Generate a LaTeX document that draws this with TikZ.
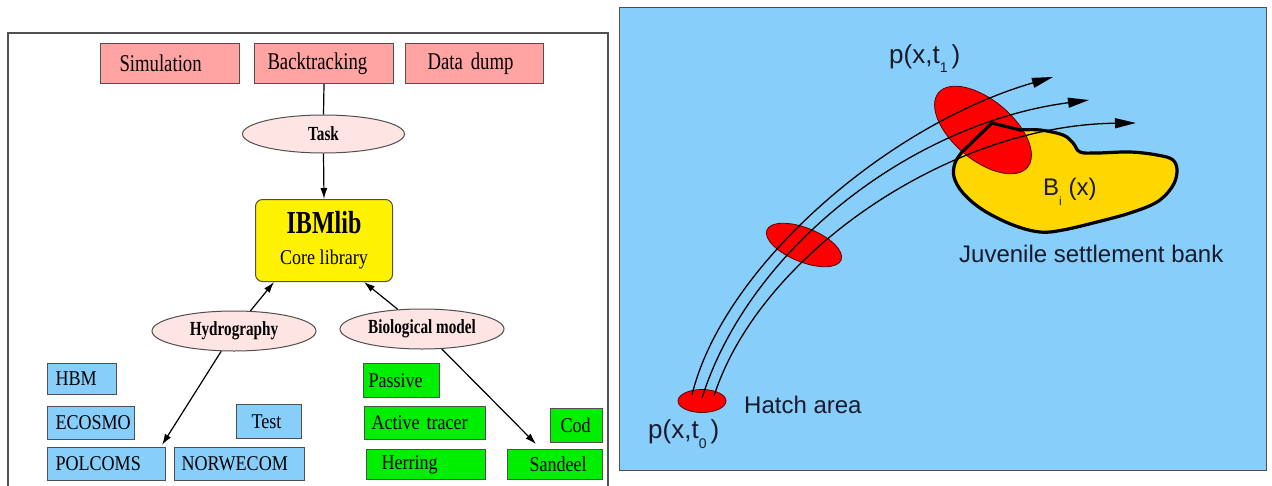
\documentclass[tikz,border=0pt]{standalone}
\usepackage{fontspec}
\usetikzlibrary{arrows.meta,shapes.geometric}
\newfontfamily\cserif[FakeStretch=0.86]{Liberation Serif}
\newfontfamily\topserif[FakeStretch=0.78]{Liberation Serif}
\newfontfamily\ellserif[FakeStretch=0.76]{Liberation Serif}
\newfontfamily\ibmserif[FakeStretch=0.75]{Liberation Serif}
\newfontfamily\asans{Liberation Sans}
\definecolor{pinkfill}{HTML}{FFA3A3}
\definecolor{ellfill}{HTML}{FFE4E4}
\definecolor{bluefill}{HTML}{87CEFA}
\definecolor{greenfill}{HTML}{00EE00}
\definecolor{boxline}{HTML}{505050}
\definecolor{sea}{HTML}{87CEFA}
\definecolor{bank}{HTML}{FFD700}
\definecolor{larva}{HTML}{FF0000}
\definecolor{larvaline}{HTML}{5A0000}
\definecolor{textdark}{HTML}{1A1A2A}
\begin{document}
\begin{tikzpicture}[x=1pt,y=-1pt,
  box/.style={draw=boxline, line width=1pt, inner xsep=0pt, inner ysep=0pt,
    align=left, anchor=north west, font=\cserif\fontsize{21}{24}\selectfont},
  bw/.style={text width=#1pt},
  bh/.style={minimum height=#1pt},
  pinkbox/.style={box, fill=pinkfill, font=\topserif\fontsize{24}{26}\selectfont},
  bluebox/.style={box, fill=bluefill},
  greenbox/.style={box, fill=greenfill},
  ell/.style={ellipse, draw=boxline, line width=1pt, fill=ellfill, inner sep=0pt,
    font=\ellserif\bfseries\fontsize{20}{22}\selectfont},
  arr/.style={line width=1.2pt, -{Latex[length=11pt,width=7pt]}},
  plain/.style={line width=1.2pt},
  traj/.style={line width=1.3pt, -{Triangle[length=21pt,width=10pt]}},
  lab/.style={anchor=base west, text=textdark, inner sep=0pt,
    font=\asans\fontsize{24}{28}\selectfont},
  plab/.style={lab, font=\asans\fontsize{26}{30}\selectfont},
  redell/.style={fill=larva, draw=larvaline, line width=0.8pt}
]
\useasboundingbox (0,0) rectangle (1272,485);
\fill[white] (0,0) rectangle (1272,485);

% ---------------- left panel ----------------
\draw[boxline, line width=1.3pt] (8,490) -- (8,33) -- (608,33) -- (608,490);

\node[pinkbox, bw=139, bh=40] (sim) at (100,43) {\hspace*{19pt}Simulation};
\node[pinkbox, bw=139, bh=40] (back) at (254,43) {\hspace*{13pt}Backtracking};
\node[pinkbox, bw=138, bh=40] (dump) at (405,43) {\hspace*{22pt}Data dump};

\node[ell, minimum width=162pt, minimum height=38pt] (task) at (323.5,134) {Task};

\node[draw=boxline, line width=1pt, fill=yellow, rounded corners=7pt,
  minimum width=137pt, minimum height=82pt, inner sep=0pt, align=center,
  anchor=north west] (ibm) at (255,199)
  {{\ibmserif\bfseries\fontsize{32}{32}\selectfont IBMlib}\\[15pt]
   {\cserif\fontsize{21}{24}\selectfont Core library}};

\node[ell, minimum width=164pt, minimum height=40pt] (hydro) at (234,331) {Hydrography};
\node[ell, minimum width=164pt, minimum height=40pt] (bio) at (422,329) {Biological model};

\node[bluebox, bw=69, bh=31] (hbm) at (47,363) {\hspace*{8pt}HBM};
\node[bluebox, bw=87, bh=33] (ecosmo) at (47,406) {\hspace*{8pt}ECOSMO};
\node[bluebox, bw=65, bh=34] (test) at (236,404) {\hspace*{15pt}Test};
\node[bluebox, bw=118, bh=33] (polcoms) at (47,447) {\hspace*{8pt}POLCOMS};
\node[bluebox, bw=130, bh=33] (norwecom) at (174,447) {\hspace*{7pt}NORWECOM};

\node[greenbox, bw=76, bh=34] (passive) at (363,363) {\hspace*{5pt}Passive};
\node[greenbox, bw=121, bh=33] (active) at (364,406) {\hspace*{7pt}Active tracer};
\node[greenbox, bw=52, bh=34] (cod) at (550,408) {\hspace*{10pt}Cod};
\node[greenbox, bw=119, bh=30] (herring) at (366,449) {\hspace*{15pt}Herring};
\node[greenbox, bw=95, bh=30] (sandeel) at (507,449) {\hspace*{22pt}Sandeel};

\draw[plain] (back.south) -- (task.north);
\draw[arr] (task.south) -- (ibm.north);
\draw[arr] (hydro) -- ([xshift=-50pt]ibm.south);
\draw[arr] (bio) -- ([xshift=40pt]ibm.south);
\draw[arr] (hydro) -- ([xshift=-4pt,yshift=2pt]polcoms.north east);
\draw[arr] (bio) -- ([xshift=-19pt,yshift=5pt]sandeel.north);

% ---------------- right panel ----------------
\fill[sea] (619,7) rectangle (1266,470);
\draw[boxline, line width=1pt] (619,7) rectangle (1266,470);

% settlement bank fill
\fill[bank] (992,123) -- plot[smooth, tension=0.6] coordinates {(1020,130) (1040,130) (1063,135) (1073,143) (1080,152) (1097,153) (1130,152) (1157,155) (1173,160) (1177,172) (1172,187) (1157,202) (1130,213) (1097,222) (1063,230) (1040,232) (1013,225) (983,210) (963,193) (954,177) (955,163) (962,152)} -- cycle;

% larval distributions
\draw[redell, rotate around={-40:(983,130)}] (983,130) ellipse [x radius=58, y radius=30];
\draw[redell, rotate around={-22:(804,245)}] (804,245) ellipse [x radius=40, y radius=17];
\draw[redell] (702,401) ellipse [x radius=24, y radius=11.5];

% settlement bank outline
\draw[black, line width=3.2pt, line join=round] (992,123) -- plot[smooth, tension=0.6] coordinates {(1020,130) (1040,130) (1063,135) (1073,143) (1080,152) (1097,153) (1130,152) (1157,155) (1173,160) (1177,172) (1172,187) (1157,202) (1130,213) (1097,222) (1063,230) (1040,232) (1013,225) (983,210) (963,193) (954,177) (955,163) (962,152)} -- cycle;

% trajectories
\coordinate (s1) at (692,395);
\coordinate (s2) at (702,398);
\coordinate (s3) at (714,396);
\coordinate (e1) at (1053,77);
\coordinate (e2) at (1089,100);
\coordinate (e3) at (1136,123);
\draw[traj] (s1) .. controls (722.3,269.2) and (884.7,125.9) .. (e1);
\draw[traj] (s2) .. controls (749.2,248.5) and (911.7,123.3) .. (e2);
\draw[traj] (s3) .. controls (759.5,254.4) and (949,125) .. (e3);

% labels
\node[plab] (pt1) at (889,63) {p(x,t\raisebox{-9pt}{\fontsize{14}{14}\selectfont 1}\hspace{4pt})};
\node[plab] (pt0) at (648,438) {p(x,t\raisebox{-10pt}{\fontsize{14}{14}\selectfont 0}\hspace{4pt})};
\node[lab] (hatch) at (744,413) {Hatch area};
\node[lab] (juv) at (959,262) {Juvenile settlement bank};
\node[lab] (bi) at (1043,195) {B\raisebox{-10pt}{\fontsize{12}{12}\selectfont i} (x)};
\end{tikzpicture}
\end{document}
